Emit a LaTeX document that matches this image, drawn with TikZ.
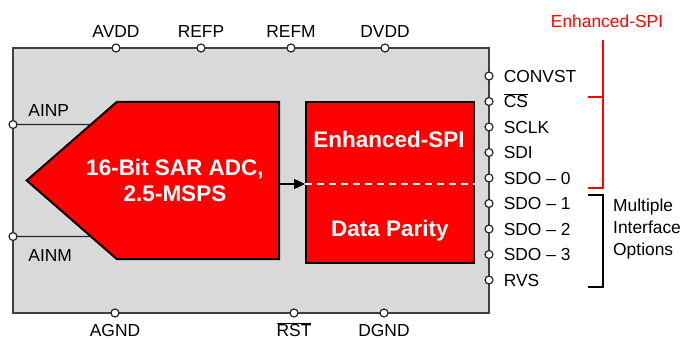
\documentclass[tikz,border=0pt]{standalone}
\usepackage{fontspec}
\setmainfont{Liberation Sans}
\usetikzlibrary{arrows.meta}
\usetikzlibrary{positioning}
\usetikzlibrary{calc}
\definecolor{chipgray}{RGB}{217,217,217}
\definecolor{edgegray}{RGB}{64,64,64}
\definecolor{tired}{RGB}{255,0,0}
\newcommand\mypin[5][]{%
  \node[mypin] (#4) at (#2,#3) {};
  \node[lbl,#1 of #4] (#4-lbl) {#5};
}

\begin{document}
\begin{tikzpicture}[
x=1pt, y=-1pt,
font=\fontsize{17.4}{21}\selectfont,
chip/.style={
  draw=edgegray,
  line width=2pt,
  fill=chipgray,
  inner sep=0},
mypin/.style={
  circle,
  draw=black!85,
  line width=1.2pt,
  fill=white,
  inner sep=0,
  minimum size=8pt},
lbl/.style={inner sep=0, text height=12.5pt, text depth=0pt},
redblock/.style={draw=black, line width=2pt, fill=tired, inner sep=0},
btxt/.style={text=white, font=\fontsize{22.5}{26.7}\selectfont\bfseries, align=center},
bracket/.style={line width=2pt}
]
\useasboundingbox (0,0) rectangle (685,339);

% device body
\node[chip, minimum width=476pt, minimum height=265pt] (chip) at (251,180.5) {};

% converter
\draw[redblock] (116.7,102) coordinate (adc-nw) -- (279,102) -- (279,259)
  -- (116.7,259) coordinate (adc-sw) -- (26.7,180.5) coordinate (adc-tip) -- cycle;
\node[btxt] (adc) at (175,180.4) {16-Bit SAR ADC,\\2.5-MSPS};
\coordinate (adc-out) at (279,184);

% serial interface
\node[redblock, minimum width=168pt, minimum height=161pt] (spi) at (390,182.5) {};
\node[btxt] (spi-top) at (389,139) {Enhanced-SPI};
\node[btxt] (spi-bot) at (390,231) {Data Parity};
\draw[white, line width=1.2pt, dash pattern=on 7pt off 5pt]
  (spi.west |- adc-out) -- (spi.east |- adc-out);
\draw[-{Triangle[length=11pt,width=10pt]}, line width=1.2pt] (adc-out) -- (spi.west |- adc-out);

% analog inputs
\draw[line width=1.2pt, black!85] (13,124.5) -- ($(adc-nw)!0.287!(adc-tip)$);
\draw[line width=1.2pt, black!85] (13,236.5) -- ($(adc-sw)!0.287!(adc-tip)$);
\mypin[above right=4.5pt and 12pt]{13}{124.5}{ainp}{AINP}
\mypin[below right=9pt and 12pt]{13}{236.5}{ainm}{AINM}

% supply pins
\mypin[above=6pt]{116}{48}{avdd}{AVDD}
\mypin[above=6pt]{201}{48}{refp}{REFP}
\mypin[above=6pt]{291}{48}{refm}{REFM}
\mypin[above=6pt]{385}{48}{dvdd}{DVDD}
\mypin[below=6pt]{115}{313}{agnd}{AGND}
\mypin[below=6pt]{294}{313}{rst}{$\overline{\mbox{RST}}$}
\mypin[below=6pt]{384}{313}{dgnd}{DGND}

% digital pins
\foreach \i/\n/\t in {0/convst/CONVST, 1/cs/{$\overline{\mbox{CS}}$}, 2/sclk/SCLK,
  3/sdi/SDI, 4/sdo0/{SDO -- 0}, 5/sdo1/{SDO -- 1}, 6/sdo2/{SDO -- 2},
  7/sdo3/{SDO -- 3}, 8/rvs/RVS}
  {\mypin[right=10pt]{489}{76+25.5*\i}{\n}{\t}}

% interface groups
\draw[bracket, tired] (603,40) coordinate (espi-top) -- (603,188) -- (588,188);
\draw[bracket, tired] (603,97) coordinate (espi-mid) -- (588,97);
\node[text=tired] (espi) at (607,21) {Enhanced-SPI};
\draw[bracket] (588,195) -- (603,195) coordinate (multi-top) -- (603,287) -- (588,287);
\node[anchor=west, align=left, inner sep=0, font=\fontsize{17.4}{22}\selectfont] (multi) at (613,229)
  {Multiple\\Interface\\Options};
\end{tikzpicture}
\end{document}
